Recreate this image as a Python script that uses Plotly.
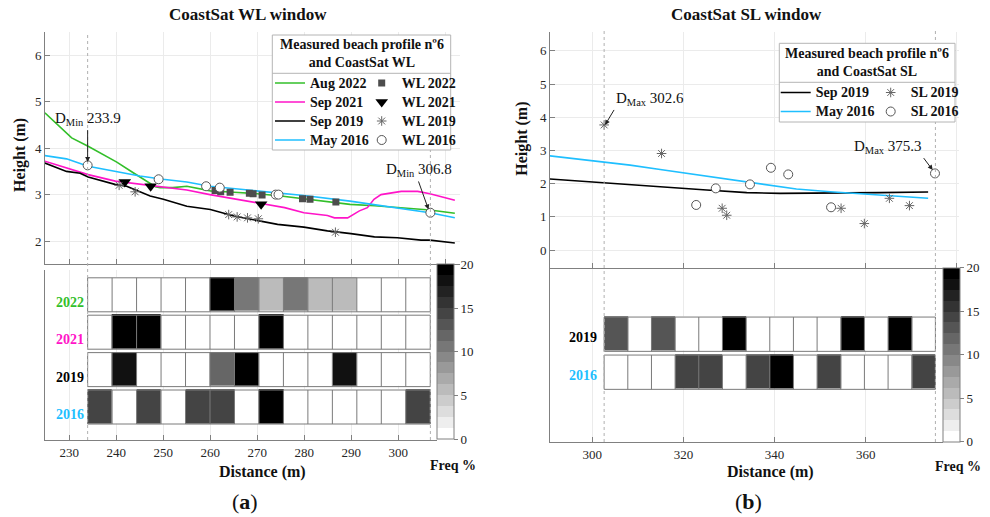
import plotly.graph_objects as go
import numpy as np

W, H = 990, 517
FONT = "Liberation Serif"
GREEN = "#33bf2a"
MAGENTA = "#ff14c8"
CYAN = "#1fbfff"
GRID = "#ebebeb"
AXC = "#808080"

# ---------------- Panel (a): CoastSat WL window ----------------
aug2022_d = [224.8, 230.5, 234.0, 239.7, 240.1, 243.6, 246.4, 248.3, 249.3, 252.0, 255.0, 260.0,
             265.0, 270.0, 275.0, 279.9, 285.0, 289.7, 295.0, 299.6, 306.7, 312.0]
aug2022_h = [4.76, 4.22, 4.04, 3.72, 3.70, 3.47, 3.29, 3.17, 3.15, 3.15, 3.18, 3.08,
             3.05, 3.02, 2.97, 2.91, 2.85, 2.79, 2.76, 2.72, 2.67, 2.60]
sep2021_d = [224.8, 229.5, 234.0, 239.8, 245.0, 249.9, 255.0, 259.9, 264.9, 269.9, 275.8, 279.9,
             283.0, 284.9, 286.4, 289.2, 291.7, 293.4, 294.8, 296.3, 300.6, 304.1, 306.7, 312.0]
sep2021_h = [3.72, 3.58, 3.43, 3.29, 3.22, 3.16, 3.10, 3.00, 2.91, 2.82, 2.72, 2.61,
             2.58, 2.55, 2.50, 2.50, 2.65, 2.72, 2.90, 3.00, 3.07, 3.07, 3.02, 2.88]
sep2019a_d = [224.8, 229.4, 232.3, 234.0, 239.7, 242.2, 247.2, 250.0, 255.0, 260.0, 265.0, 270.0,
              274.3, 279.9, 284.9, 289.9, 294.9, 299.8, 304.8, 306.7, 312.0]
sep2019a_h = [3.68, 3.50, 3.46, 3.38, 3.22, 3.18, 2.97, 2.90, 2.75, 2.68, 2.54, 2.45,
              2.36, 2.30, 2.22, 2.16, 2.09, 2.07, 2.02, 2.02, 1.96]
may2016a_d = [224.8, 229.4, 234.0, 239.9, 245.0, 249.9, 255.0, 259.9, 269.9, 279.9, 289.7, 299.6, 306.7, 312.0]
may2016a_h = [3.84, 3.77, 3.61, 3.49, 3.40, 3.33, 3.27, 3.18, 3.08, 2.98, 2.86, 2.72, 2.61, 2.50]

wl2022_d = [261.0, 262.2, 264.2, 268.3, 269.1, 271.0, 279.6, 281.2, 286.7]
wl2022_h = [3.09, 3.06, 3.05, 3.03, 3.02, 2.99, 2.91, 2.90, 2.84]
wl2021_d = [241.8, 247.3, 270.8]
wl2021_h = [3.27, 3.18, 2.79]
wl2019_d = [240.6, 244.0, 263.9, 265.7, 267.9, 270.2, 286.6]
wl2019_h = [3.20, 3.06, 2.57, 2.52, 2.50, 2.48, 2.19]
wl2016_d = [233.9, 249.0, 259.1, 262.0, 273.9, 274.5, 306.8]
wl2016_h = [3.63, 3.33, 3.18, 3.15, 3.00, 3.00, 2.61]

wl_dmin = [233.9, 306.8]
wl_years = ["2016", "2019", "2021", "2022"]
wl_year_colors = [CYAN, "#000000", MAGENTA, GREEN]
wl_freq_2016 = [14.3, 0, 14.3, 0, 14.3, 14.3, 0, 28.6, 0, 0, 0, 0, 0, 14.3]
wl_freq_2019 = [0, 18.7, 0, 0, 0, 12.0, 28.6, 0, 0, 0, 18.7, 0, 0, 0]
wl_freq_2021 = [0, 33.3, 33.3, 0, 0, 0, 0, 33.3, 0, 0, 0, 0, 0, 0]
wl_freq_2022 = [0, 0, 0, 0, 0, 22.2, 11.1, 5.6, 11.1, 5.6, 5.6, 0, 0, 0]

# ---------------- Panel (b): CoastSat SL window ----------------
sep2019b_d = [290.7, 302.6, 308.3, 314.9, 325.1, 333.9, 341.2, 348.5, 355.8, 363.1, 373.7]
sep2019b_h = [2.14, 2.03, 1.99, 1.91, 1.81, 1.73, 1.71, 1.71, 1.71, 1.73, 1.75]
may2016b_d = [290.7, 302.6, 308.3, 314.9, 320.0, 326.6, 333.9, 339.7, 344.8, 352.2, 355.8, 363.1, 373.7]
may2016b_h = [2.84, 2.66, 2.56, 2.43, 2.33, 2.19, 2.06, 1.94, 1.84, 1.76, 1.73, 1.66, 1.56]

sl2019_d = [302.6, 315.2, 328.5, 329.5, 354.6, 359.7, 365.2, 369.6]
sl2019_h = [3.77, 2.91, 1.26, 1.05, 1.26, 0.80, 1.56, 1.34]
sl2016_d = [322.8, 327.1, 334.6, 339.2, 343.0, 352.4, 375.2]
sl2016_h = [1.36, 1.86, 1.98, 2.48, 2.28, 1.29, 2.31]

sl_dmax = [302.6, 375.3]
sl_years = ["2016", "2019"]
sl_year_colors = [CYAN, "#000000"]
sl_freq_2016 = [0, 0, 0, 14.3, 14.3, 0, 14.3, 28.6, 0, 14.3, 0, 0, 0, 14.3]
sl_freq_2019 = [13.0, 0, 13.0, 0, 0, 25.0, 0, 0, 0, 0, 25.0, 0, 25.0, 0]

NBINS = 14
FREQ_TICKS = [0, 5, 10, 15, 20]


def px(x):
    return x / W


def py(y):
    return 1 - y / H


# stepped gray colour scale (16 levels, white -> black)
nlev = 16
cscale = []
for k in range(nlev):
    g = round(255 * (1 - k / (nlev - 1)))
    c = f"rgb({g},{g},{g})"
    cscale.append([k / nlev, c])
    cscale.append([(k + 1) / nlev, c])


def borders(edges, nrows, half):
    xs, ys = [], []
    for r in range(nrows):
        y0, y1 = r - half, r + half
        xs += [edges[0], edges[-1], edges[-1], edges[0], edges[0], None]
        ys += [y0, y0, y1, y1, y0, None]
        for e in edges[1:-1]:
            xs += [e, e, None]
            ys += [y0, y1, None]
    return xs, ys


fig = go.Figure()

LW = 1.6
span = "<span style='font-size:14px'><b>{}</b></span>"

# ---- panel a lines
for d, h, c, n in [(aug2022_d, aug2022_h, GREEN, "Aug 2022"),
                   (sep2021_d, sep2021_h, MAGENTA, "Sep 2021"),
                   (sep2019a_d, sep2019a_h, "#000000", "Sep 2019"),
                   (may2016a_d, may2016a_h, CYAN, "May 2016")]:
    fig.add_trace(go.Scatter(x=d, y=h, mode="lines", line=dict(color=c, width=LW),
                             name=span.format(n), legend="legend", xaxis="x", yaxis="y"))

mk_a = [
    (wl2022_d, wl2022_h, dict(symbol="square", size=7, color="#4d4d4d"), "WL 2022"),
    (wl2021_d, wl2021_h, dict(symbol="triangle-down", size=11, color="#000000"), "WL 2021"),
    (wl2019_d, wl2019_h, dict(symbol="asterisk-open", size=8, color="#666666",
                              line=dict(color="#666666", width=1)), "WL 2019"),
    (wl2016_d, wl2016_h, dict(symbol="circle", size=9, color="white",
                              line=dict(color="#555555", width=1)), "WL 2016"),
]
for d, h, m, n in mk_a:
    fig.add_trace(go.Scatter(x=d, y=h, mode="markers", marker=m, name=span.format(n),
                             legend="legend2", xaxis="x", yaxis="y"))

# ---- panel a heatmap
edges_a = np.linspace(wl_dmin[0], wl_dmin[1], NBINS + 1)
z_a = [wl_freq_2016, wl_freq_2019, wl_freq_2021, wl_freq_2022]
fig.add_trace(go.Heatmap(x=edges_a, y=list(range(len(wl_years))), z=z_a, zmin=0, zmax=20,
                         colorscale=cscale, ygap=3.4, xaxis="x2", yaxis="y2", showscale=True,
                         hoverinfo="skip",
                         colorbar=dict(x=px(437.3), xanchor="left", y=py(264.3), yanchor="top",
                                       len=175, lenmode="pixels", thickness=17, thicknessmode="pixels",
                                       xpad=0, ypad=0, outlinewidth=1, outlinecolor=AXC,
                                       tickvals=FREQ_TICKS, ticks="outside", ticklen=4, tickcolor=AXC,
                                       tickfont=dict(family=FONT, size=13, color="#222"))))
bx, by = borders(edges_a, len(wl_years), 0.4545)
fig.add_trace(go.Scatter(x=bx, y=by, mode="lines", line=dict(color="#7a7a7a", width=1),
                         showlegend=False, hoverinfo="skip", xaxis="x2", yaxis="y2"))

# ---- panel b lines
for d, h, c, n in [(sep2019b_d, sep2019b_h, "#000000", "Sep 2019"),
                   (may2016b_d, may2016b_h, CYAN, "May 2016")]:
    fig.add_trace(go.Scatter(x=d, y=h, mode="lines", line=dict(color=c, width=LW),
                             name=span.format(n), legend="legend3", xaxis="x3", yaxis="y3"))
mk_b = [
    (sl2019_d, sl2019_h, dict(symbol="asterisk-open", size=8, color="#666666",
                              line=dict(color="#666666", width=1)), "SL 2019"),
    (sl2016_d, sl2016_h, dict(symbol="circle", size=9, color="white",
                              line=dict(color="#555555", width=1)), "SL 2016"),
]
for d, h, m, n in mk_b:
    fig.add_trace(go.Scatter(x=d, y=h, mode="markers", marker=m, name=span.format(n),
                             legend="legend4", xaxis="x3", yaxis="y3"))

# ---- panel b heatmap
edges_b = np.linspace(sl_dmax[0], sl_dmax[1], NBINS + 1)
z_b = [sl_freq_2016, sl_freq_2019]
fig.add_trace(go.Heatmap(x=edges_b, y=list(range(len(sl_years))), z=z_b, zmin=0, zmax=20,
                         colorscale=cscale, ygap=3.7, xaxis="x4", yaxis="y4", showscale=True,
                         hoverinfo="skip",
                         colorbar=dict(x=px(942.7), xanchor="left", y=py(267.5), yanchor="top",
                                       len=173.5, lenmode="pixels", thickness=16.6, thicknessmode="pixels",
                                       xpad=0, ypad=0, outlinewidth=1, outlinecolor=AXC,
                                       tickvals=FREQ_TICKS, ticks="outside", ticklen=4, tickcolor=AXC,
                                       tickfont=dict(family=FONT, size=13, color="#222"))))
bx, by = borders(edges_b, len(sl_years), 0.4513)
fig.add_trace(go.Scatter(x=bx, y=by, mode="lines", line=dict(color="#7a7a7a", width=1),
                         showlegend=False, hoverinfo="skip", xaxis="x4", yaxis="y4"))

# ---------------- axes ----------------
tickfont = dict(family=FONT, size=13, color="#262626")
common_x = dict(showline=True, linecolor=AXC, linewidth=1, ticks="inside", ticklen=5, tickcolor=AXC,
                showgrid=True, gridcolor=GRID, zeroline=False, tickfont=tickfont)
common_y = dict(showline=True, linecolor=AXC, linewidth=1, zeroline=False, tickfont=tickfont)

fig.update_layout(
    xaxis=dict(domain=[px(45), px(460)], range=[224.83, 313.1], anchor="y", tick0=230, dtick=10,
               showticklabels=False, **common_x),
    yaxis=dict(domain=[py(264.3), py(32)], range=[1.5, 6.5], anchor="x", dtick=1, ticks="inside",
               ticklen=5, tickcolor=AXC, showgrid=True, gridcolor=GRID, **common_y),
    xaxis2=dict(domain=[px(45), px(437.3)], range=[224.83, 308.3], anchor="y2", tick0=230, dtick=10,
                **common_x),
    yaxis2=dict(domain=[py(440), py(270)], range=[-0.882, 3.663], anchor="x2", showticklabels=False,
                ticks="", showgrid=False, **common_y),
    xaxis3=dict(domain=[px(550), px(959.3)], range=[290.72, 380.54], anchor="y3", tick0=300, dtick=20,
                showticklabels=False, **common_x),
    yaxis3=dict(domain=[py(267.7), py(32)], range=[-0.53, 6.57], anchor="x3", dtick=1, ticks="inside",
                ticklen=5, tickcolor=AXC, showgrid=True, gridcolor=GRID, **common_y),
    xaxis4=dict(domain=[px(550), px(942.7)], range=[290.72, 376.9], anchor="y4", tick0=300, dtick=20,
                **common_x),
    yaxis4=dict(domain=[py(442), py(269.3)], range=[-1.837, 2.708], anchor="x4", showticklabels=False,
                ticks="", showgrid=False, **common_y),
)

leg_common = dict(xanchor="left", yanchor="top", bgcolor="rgba(0,0,0,0)", borderwidth=0,
                  font=dict(family=FONT, size=12, color="#111"), tracegroupgap=0, itemwidth=30)
fig.update_layout(
    legend=dict(x=px(270), y=py(68.5), **leg_common),
    legend2=dict(x=px(361.7), y=py(68.5), **leg_common),
    legend3=dict(x=px(775.7), y=py(78), **leg_common),
    legend4=dict(x=px(870.7), y=py(78), **leg_common),
)

# ---------------- shapes ----------------
shapes = []
for d in wl_dmin:
    shapes.append(dict(type="line", xref="x", yref="paper", x0=d, x1=d, y0=py(440), y1=py(32),
                       line=dict(color="#b0b0b0", width=1, dash="dot"), layer="above"))
for d in sl_dmax:
    shapes.append(dict(type="line", xref="x3", yref="paper", x0=d, x1=d, y0=py(442), y1=py(30),
                       line=dict(color="#b0b0b0", width=1, dash="dot"), layer="above"))
# legend boxes
for (l, r, t, b, sep) in [(272.3, 450.7, 35, 150, 73.3), (779.3, 955, 43.3, 122, 82.3)]:
    shapes.append(dict(type="rect", xref="paper", yref="paper", x0=px(l), x1=px(r), y0=py(b), y1=py(t),
                       line=dict(color="#b4b4b4", width=1), fillcolor="white", layer="above"))
    shapes.append(dict(type="line", xref="paper", yref="paper", x0=px(l), x1=px(r), y0=py(sep), y1=py(sep),
                       line=dict(color="#b4b4b4", width=1), layer="above"))
fig.update_layout(shapes=shapes)

# ---------------- annotations ----------------
anns = []


def text(t, x, y, size, color="#111", angle=0, xanchor="center"):
    anns.append(dict(text=t, x=px(x), y=py(y), xref="paper", yref="paper", showarrow=False,
                     xanchor=xanchor, yanchor="middle", textangle=angle,
                     font=dict(family=FONT, size=size, color=color)))


text("<b>CoastSat WL window</b>", 247.5, 15, 17)
text("<b>CoastSat SL window</b>", 746.7, 15, 17)
text("<b>Height (m)</b>", 20, 155, 16, angle=-90)
text("<b>Height (m)</b>", 521.7, 139, 16, angle=-90)
text("<b>Distance (m)</b>", 262.5, 472, 16)
text("<b>Distance (m)</b>", 770.8, 472, 16)
text("<b>Freq %</b>", 453, 465, 14)
text("<b>Freq %</b>", 958, 466, 14)
text("(<b>a</b>)", 245, 501, 22)
text("(<b>b</b>)", 748, 501, 22)
text("<b>Measured beach profile nº6<br>and CoastSat WL</b>", 361.5, 53.7, 14)
text("<b>Measured beach profile nº6<br>and CoastSat SL</b>", 867.2, 62.5, 14)

# row labels of the frequency strips
for i, (yr, c) in enumerate(zip(wl_years, wl_year_colors)):
    anns.append(dict(text=f"<b>{yr}</b>", x=wl_dmin[0], y=i - 0.2, xref="x2", yref="y2", showarrow=False,
                     xanchor="right", yanchor="middle", xshift=-2,
                     font=dict(family=FONT, size=14, color=c)))
for i, (yr, c) in enumerate(zip(sl_years, sl_year_colors)):
    anns.append(dict(text=f"<b>{yr}</b>", x=sl_dmax[0], y=i - 0.09, xref="x4", yref="y4", showarrow=False,
                     xanchor="right", yanchor="middle", xshift=-5,
                     font=dict(family=FONT, size=14, color=c)))

# D labels with arrows (arrow tail anchored on the label box)
afont = dict(family=FONT, size=15, color="#111")
arrow = dict(showarrow=True, arrowhead=2, arrowsize=1, arrowwidth=1, arrowcolor="#222", standoff=0,
             font=afont)
anns.append(dict(text=f"D<sub>Min</sub> {wl_dmin[0]}", x=wl_dmin[0], y=3.70, xref="x", yref="y",
                 ax=0, ay=-32, xanchor="center", yanchor="bottom", **arrow))
anns.append(dict(text=f"D<sub>Min</sub> {wl_dmin[1]}", x=306.4, y=2.68, xref="x", yref="y",
                 ax=-10, ay=-28, xanchor="center", yanchor="bottom", **arrow))
anns.append(dict(text=f"D<sub>Max</sub> {sl_dmax[0]}", x=302.8, y=3.77, xref="x3", yref="y3",
                 ax=9, ay=-15, xanchor="left", yanchor="bottom", **arrow))
anns.append(dict(text=f"D<sub>Max</sub> {sl_dmax[1]}", x=374.7, y=2.41, xref="x3", yref="y3",
                 ax=-9, ay=-12, xanchor="right", yanchor="bottom", **arrow))

fig.update_layout(annotations=anns)

fig.update_layout(width=W, height=H, margin=dict(l=0, r=0, t=0, b=0), paper_bgcolor="white",
                  plot_bgcolor="white", font=dict(family=FONT, color="#111"))

fig.write_html("out.html")
